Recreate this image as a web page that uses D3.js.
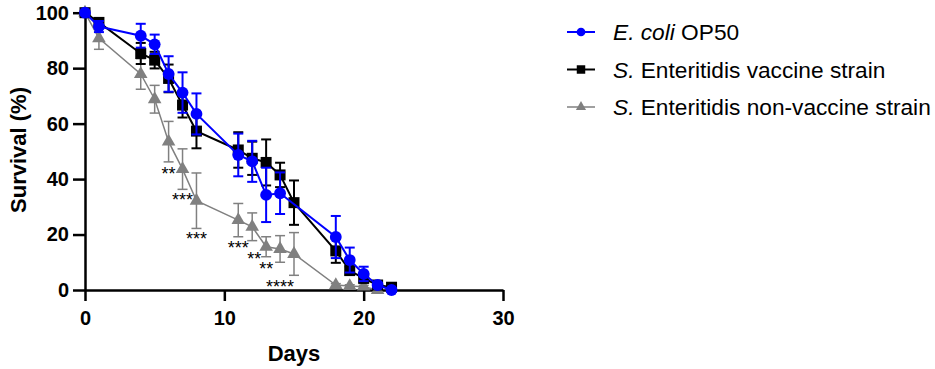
<!DOCTYPE html>
<html>
<head>
<meta charset="utf-8">
<script src="https://cdn.jsdelivr.net/npm/d3@7"></script>
<style>
  body { margin: 0; background: #fff; }
  svg { display: block; font-family: "Liberation Sans", Arial, sans-serif; }
  .axis path, .axis line { stroke: #000; stroke-width: 2.5; }
  .axis text { font-size: 20px; font-weight: bold; fill: #000; }
</style>
</head>
<body>
<svg id="chart" width="935" height="369"></svg>
<script>
// E. coli OP50
const ecoliDays = [0, 1, 4, 5, 6, 7, 8, 11, 12, 13, 14, 18, 19, 20, 21, 22];
const ecoliSurv = [100, 95, 91.7, 88.6, 77.9, 71.2, 63.5, 48.7, 46.4, 34.3, 34.9, 19.1, 10.8, 5.8, 1.8, 0];
const ecoliErr = [0, 2, 4.3, 3.5, 6.4, 7.3, 7.4, 7.7, 7.4, 9.8, 7.5, 7.6, 4.5, 2.6, 0.8, 0];

// S. Enteritidis vaccine strain
const vacDays = [0, 1, 4, 5, 6, 7, 8, 11, 12, 13, 14, 15, 18, 19, 20, 21, 22];
const vacSurv = [100, 96.5, 85.3, 82.9, 76.3, 66.7, 57.3, 50.5, 47.5, 46.0, 41.5, 31.5, 14.1, 7.0, 4.2, 1.8, 1];
const vacErr = [0, 1.5, 3.8, 3, 5, 4.5, 6.2, 6.4, 6, 8.3, 4.4, 8, 4.3, 1.5, 1.5, 0.5, 0];

// S. Enteritidis non-vaccine strain
const nonVacDays = [0, 1, 4, 5, 6, 7, 8, 11, 12, 13, 14, 15, 18, 19, 20, 21];
const nonVacSurv = [100, 90.8, 77.9, 68.8, 53.5, 43.6, 32.2, 25.2, 22.8, 15.6, 14.8, 13.0, 1.8, 1.4, 1.2, 0];
const nonVacErr = [0, 4, 5.5, 5, 7.3, 7.3, 10, 6, 5, 3.6, 4.8, 7.7, 0.5, 0.5, 0.5, 0];

// significance marks (day, label, centre height in %)
const sigDays = [6, 7, 8, 11, 12.15, 13, 14];
const sigLabels = ["**", "***", "***", "***", "**", "**", "****"];
const sigY = [43.3, 33.9, 19.8, 16.6, 12.8, 8.9, 2.4];

const xTicks = [0, 10, 20, 30];
const yTicks = [0, 20, 40, 60, 80, 100];

const series = [
  { name: "nonvac", days: nonVacDays, surv: nonVacSurv, err: nonVacErr, color: "#808080", lw: 1.5, shape: "triangle" },
  { name: "vac", days: vacDays, surv: vacSurv, err: vacErr, color: "#000000", lw: 2, shape: "square" },
  { name: "ecoli", days: ecoliDays, surv: ecoliSurv, err: ecoliErr, color: "#0000ff", lw: 2, shape: "circle" },
];

const svg = d3.select("#chart");

const x = d3.scaleLinear().domain([0, 30]).range([85, 503]);
const y = d3.scaleLinear().domain([0, 100]).range([290, 12.7]);

const symbolFor = (shape, big) => {
  if (shape === "circle") return d3.symbol(d3.symbolCircle, big ? 110 : 60)();
  if (shape === "square") return d3.symbol(d3.symbolSquare, big ? 121 : 72)();
  return d3.symbol(d3.symbolTriangle, big ? 80 : 45)();
};

// axes
svg.append("g")
  .attr("class", "axis")
  .attr("transform", `translate(0,${y(0)})`)
  .call(d3.axisBottom(x).tickValues(xTicks).tickSize(11).tickSizeOuter(0).tickPadding(10));

svg.append("g")
  .attr("class", "axis")
  .attr("transform", `translate(${x(0)},0)`)
  .call(d3.axisLeft(y).tickValues(yTicks).tickSize(12).tickSizeOuter(0).tickPadding(4));

// series
series.forEach((s) => {
  const pts = s.days.map((d, i) => ({ d, v: s.surv[i], e: s.err[i] }));
  const g = svg.append("g");

  g.append("path")
    .datum(pts)
    .attr("fill", "none")
    .attr("stroke", s.color)
    .attr("stroke-width", s.lw)
    .attr("d", d3.line().x((p) => x(p.d)).y((p) => y(p.v)));

  const bars = g.selectAll(".eb").data(pts.filter((p) => p.e > 0)).join("g")
    .attr("stroke", s.color).attr("stroke-width", s.lw);
  bars.append("line")
    .attr("x1", (p) => x(p.d)).attr("x2", (p) => x(p.d))
    .attr("y1", (p) => y(p.v - p.e)).attr("y2", (p) => y(p.v + p.e));
  bars.append("line")
    .attr("x1", (p) => x(p.d) - 5).attr("x2", (p) => x(p.d) + 5)
    .attr("y1", (p) => y(p.v + p.e)).attr("y2", (p) => y(p.v + p.e));
  bars.append("line")
    .attr("x1", (p) => x(p.d) - 5).attr("x2", (p) => x(p.d) + 5)
    .attr("y1", (p) => y(p.v - p.e)).attr("y2", (p) => y(p.v - p.e));

  g.selectAll(".pt").data(pts).join("path")
    .attr("transform", (p) => `translate(${x(p.d)},${y(p.v)})`)
    .attr("d", symbolFor(s.shape, true))
    .attr("fill", s.color);
});

// significance
svg.append("g")
  .selectAll("text")
  .data(sigDays.map((d, i) => ({ d, label: sigLabels[i], v: sigY[i] })))
  .join("text")
  .attr("x", (p) => x(p.d))
  .attr("y", (p) => y(p.v) + 10)
  .attr("text-anchor", "middle")
  .attr("font-size", 18)
  .text((p) => p.label);

// axis titles
svg.append("text")
  .attr("x", (x(0) + x(30)) / 2)
  .attr("y", 361)
  .attr("text-anchor", "middle")
  .attr("font-size", 22)
  .attr("font-weight", "bold")
  .text("Days");

svg.append("text")
  .attr("transform", "translate(26,150) rotate(-90)")
  .attr("text-anchor", "middle")
  .attr("font-size", 22)
  .attr("font-weight", "bold")
  .text("Survival (%)");

// legend
const legendRows = [
  { s: series[2], it: "E. coli", rest: " OP50" },
  { s: series[1], it: "S.", rest: " Enteritidis vaccine strain" },
  { s: series[0], it: "S.", rest: " Enteritidis non-vaccine strain" },
];
const legend = svg.append("g");
legendRows.forEach((r, i) => {
  const ly = 32 + i * 37.5;
  legend.append("line")
    .attr("x1", 567).attr("x2", 595).attr("y1", ly).attr("y2", ly)
    .attr("stroke", r.s.color).attr("stroke-width", r.s.lw);
  legend.append("path")
    .attr("transform", `translate(581,${ly})`)
    .attr("d", symbolFor(r.s.shape, false))
    .attr("fill", r.s.color);
  const t = legend.append("text")
    .attr("x", 613).attr("y", ly + 8)
    .attr("font-size", 22.7);
  t.append("tspan").attr("font-style", "italic").text(r.it);
  t.append("tspan").text(r.rest);
});
</script>
</body>
</html>
